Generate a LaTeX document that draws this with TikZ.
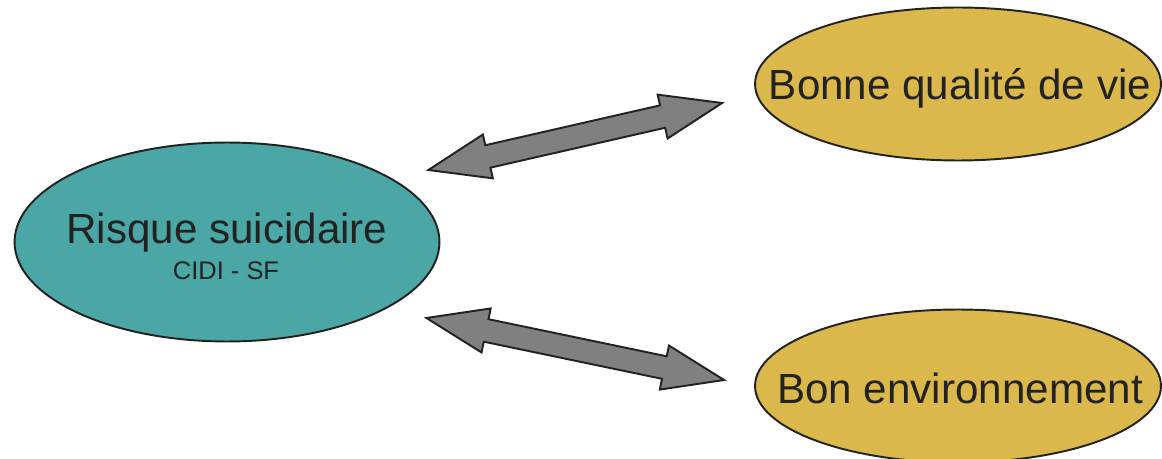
\documentclass[tikz,border=0pt]{standalone}
\usepackage{fontspec}
\setmainfont{Liberation Sans}
\usepackage{tikz}
\usetikzlibrary{shapes.geometric}
\usetikzlibrary{calc}
\definecolor{tealfill}{HTML}{4BA6A6}
\definecolor{goldfill}{HTML}{DBB84B}
\definecolor{inkgray}{HTML}{222222}
\tikzset{oval/.style = {ellipse, draw=inkgray, line width=1.1pt, inner sep=0pt},
         bigtext/.style = {text=inkgray, font=\fontsize{24}{28}\selectfont, inner sep=0pt, anchor=base},
         smalltext/.style = {text=inkgray, font=\fontsize{14.5}{17}\selectfont, inner sep=0pt, anchor=base},
         blockarrow/.style = {draw=inkgray, fill=gray, line width=1.1pt, line join=miter}}
\newcommand{\dblarrow}[2]{%
  \coordinate (ha) at ($(#1)!1.22cm!(#2)$);
  \coordinate (hb) at ($(#2)!1.22cm!(#1)$);
  \draw [blockarrow] (#1) -- ($(ha)!0.45cm!90:(#2)$) -- ($(ha)!0.23cm!90:(#2)$)
    -- ($(hb)!0.23cm!-90:(#1)$) -- ($(hb)!0.45cm!-90:(#1)$) -- (#2)
    -- ($(hb)!0.45cm!90:(#1)$) -- ($(hb)!0.23cm!90:(#1)$)
    -- ($(ha)!0.23cm!-90:(#2)$) -- ($(ha)!0.45cm!-90:(#2)$) -- cycle;}
\begin{document}
\begin{tikzpicture}[x=0.02cm, y=-0.02cm]
    \useasboundingbox (0, 0) rectangle (1162, 459);

    \node [oval, fill=tealfill, minimum width=8.5cm, minimum height=3.98cm] (risk) at (227, 242) {};
    \node [oval, fill=goldfill, minimum width=8.12cm, minimum height=3.06cm] (qual) at (958, 84) {};
    \node [oval, fill=goldfill, minimum width=8.12cm, minimum height=3.06cm] (env) at (958, 386) {};

    \node [bigtext] (risklbl) at (227, 243) {Risque suicidaire};
    \node [smalltext] (cidi) at (226, 279) {CIDI - SF};
    \node [bigtext] (quallbl) at (960, 100) {Bonne qualité de vie};
    \node [bigtext] (envlbl) at (960, 403) {Bon environnement};

    \coordinate (risktop) at ([shift={(-12, -72)}]risk.east);
    \coordinate (riskbot) at ([shift={(-14, 76)}]risk.east);
    \coordinate (qualtip) at ([shift={(-32, 19)}]qual.west);
    \coordinate (envtip) at ([shift={(-30, -6)}]env.west);

    \dblarrow{risktop}{qualtip}
    \dblarrow{riskbot}{envtip}
\end{tikzpicture}
\end{document}
